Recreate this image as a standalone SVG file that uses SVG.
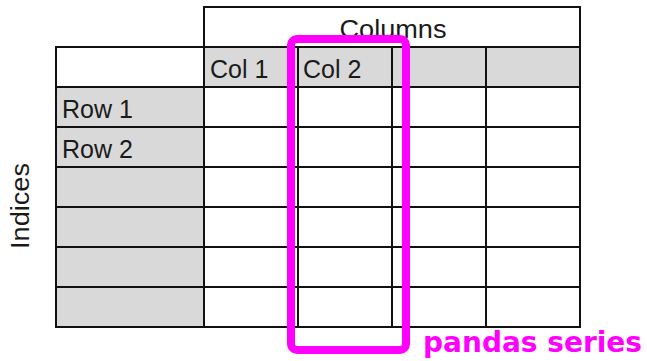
<svg xmlns="http://www.w3.org/2000/svg" width="647" height="361" viewBox="0 0 647 361">
<style>
.g{fill:#d9d9d9}
.ln{stroke:#111;stroke-width:2;fill:none}
.t{font-family:"Liberation Sans",Arial,sans-serif;font-size:25px;fill:#1a1a1a}
.hl{fill:none;stroke:#ff00ff;stroke-width:8}
.lab{font-family:"DejaVu Sans",Verdana,sans-serif;font-weight:bold;font-size:28px;fill:#ff00ff}
</style>
<rect width="647" height="361" fill="#fff"/>
<g id="table">
<rect class="g" x="204" y="47" width="376" height="40"/>
<rect class="g" x="56" y="87" width="148" height="240"/>
<g class="ln">
<rect x="204" y="7" width="376" height="40"/>
<rect x="56" y="47" width="524" height="280"/>
<path d="M56 87H580M56 127H580M56 167H580M56 207H580M56 247H580M56 287H580"/>
<path d="M204 47V327M298 47V327M392 47V327M486 47V327"/>
</g>
<text class="t" x="393" y="38" text-anchor="middle" textLength="107" lengthAdjust="spacingAndGlyphs">Columns</text>
<text class="t" x="210" y="78">Col 1</text>
<text class="t" x="303" y="78">Col 2</text>
<text class="t" x="62" y="118">Row 1</text>
<text class="t" x="62" y="158">Row 2</text>
</g>
<g id="indices">
<text class="t" transform="translate(29,206) rotate(-90)" text-anchor="middle" textLength="86" lengthAdjust="spacingAndGlyphs">Indices</text>
</g>
<g id="series">
<rect class="hl" x="291" y="39" width="115" height="311" rx="6"/>
<text class="lab" x="423" y="352" textLength="219" lengthAdjust="spacingAndGlyphs">pandas series</text>
</g>
</svg>
